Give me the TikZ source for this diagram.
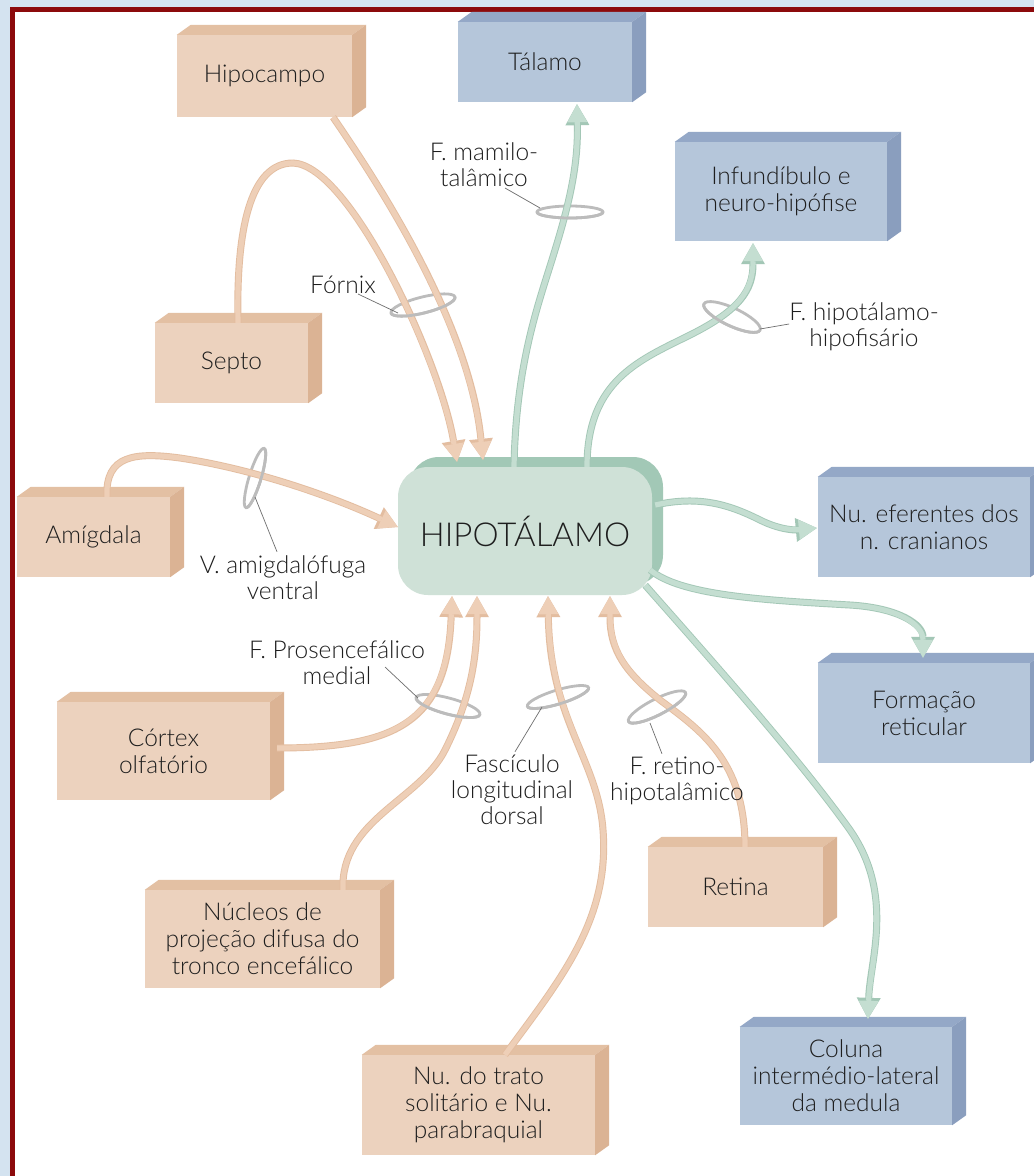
\documentclass[tikz,border=0pt]{standalone}
\usepackage{fontspec}
\IfFontExistsTF{Lato Light}{\setmainfont{Lato Light}}{\setmainfont{Lato}}
\usetikzlibrary{arrows.meta,calc}
\definecolor{outerbg}{RGB}{212,227,240}
\definecolor{framered}{RGB}{140,10,12}
\definecolor{pfront}{RGB}{236,210,190}
\definecolor{ptop}{RGB}{227,192,163}
\definecolor{pside}{RGB}{219,179,148}
\definecolor{bfront}{RGB}{181,198,218}
\definecolor{btop}{RGB}{148,168,199}
\definecolor{bside}{RGB}{138,158,190}
\definecolor{hfront}{RGB}{207,225,215}
\definecolor{hback}{RGB}{162,200,182}
\definecolor{pfill}{RGB}{238,207,183}
\definecolor{pedge}{RGB}{227,189,160}
\definecolor{gfill}{RGB}{196,222,209}
\definecolor{gedge}{RGB}{163,199,182}
\definecolor{ringc}{RGB}{188,188,188}
\definecolor{leadc}{RGB}{110,110,110}
\definecolor{txt}{RGB}{30,30,30}
\newcommand\boxfs{\fontsize{24.5}{27}\selectfont}
\newcommand\lblfs{\fontsize{24.5}{26}\selectfont}
\newcommand\mkextrude[3]{%
  \fill[#2] (#1.north west) -- ++(14,-10) -- ($(#1.north east)+(14,-10)$) -- (#1.north east) -- cycle;
  \fill[#3] (#1.north east) -- ++(14,-10) -- ($(#1.south east)+(14,-10)$) -- (#1.south east) -- cycle;}
\newcommand\ringback[4]{%
  \begin{scope}[shift={(#1)},rotate=#4]
    \draw[ringst] (0,0) ellipse [x radius=#2, y radius=#3];
  \end{scope}}
\newcommand\ringfront[5]{%
  \begin{scope}[shift={(#1)},rotate=#4]
    \draw[ringst] (#5:#2 and #3) arc [start angle=#5, end angle=#5+180, x radius=#2, y radius=#3];
  \end{scope}}
\tikzset{
  ringst/.style={draw=ringc, line width=2.8pt},
  leadst/.style={draw=leadc, line width=0.7pt},
  pbox/.style={fill=pfront, inner sep=0pt, align=center, font=\boxfs, text=txt},
  bbox/.style={fill=bfront, inner sep=0pt, align=center, font=\boxfs, text=txt},
  lbl/.style={inner sep=0pt, align=center, font=\lblfs, text=txt},
  parrow/.style={draw=pfill, line width=5.2pt,
    -{Triangle[width=20pt,length=18pt,line width=0pt]},
    preaction={draw=pedge, line width=7pt, -{Triangle[width=24pt,length=21pt,line width=0pt]}}},
  garrow/.style={draw=gfill, line width=5.2pt,
    -{Triangle[width=20pt,length=18pt,line width=0pt]},
    preaction={draw=gedge, line width=7pt, -{Triangle[width=24pt,length=21pt,line width=0pt]}}},
}
\begin{document}
\begin{tikzpicture}[x=1pt,y=-1pt]
\useasboundingbox (0,0) rectangle (1034,1176);
\fill[outerbg] (0,0) rectangle (1034,1176);
\fill[white] (12,9) rectangle (1045,1195);
\draw[framered, line width=5pt] (12.5,9.5) rectangle (1045,1195);

% hypothalamus
\fill[hback, rounded corners=30pt] (409,457) rectangle (663,585);
\node[fill=hfront, rounded corners=30pt, minimum width=254pt, minimum height=128pt, inner sep=0pt,
      font=\fontsize{33}{36}\selectfont, text=txt] (hyp) at (525,531) {HIPOTÁLAMO};

% peach boxes
\node[pbox, minimum width=175pt, minimum height=82pt] (hipo) at (264.5,76) {Hipocampo};
\node[pbox, minimum width=153pt, minimum height=80pt] (septo) at (231.5,363) {Septo};
\node[pbox, minimum width=153pt, minimum height=80pt] (amig) at (93.5,537) {Amígdala};
\node[pbox, minimum width=213pt, minimum height=98pt] (cortex) at (163.5,751) {Córtex\\olfatório};
\node[pbox, minimum width=235pt, minimum height=98pt] (nucleos) at (262.5,939) {Núcleos de\\projeção difusa do\\tronco encefálico};
\node[pbox, minimum width=233pt, minimum height=100pt] (trato) at (478.5,1105) {Nu. do trato\\solitário e Nu.\\parabraquial};
\node[pbox, minimum width=175pt, minimum height=80pt] (retina) at (735.5,887) {Retina};
\foreach \n in {hipo,septo,amig,cortex,nucleos,trato,retina}{\mkextrude{\n}{ptop}{pside}}

% blue boxes
\node[bbox, minimum width=174pt, minimum height=80pt] (talamo) at (545,62) {Tálamo};
\node[bbox, minimum width=212pt, minimum height=99pt] (infund) at (781,191.5) {Infundíbulo e\\neuro-hipófise};
\node[bbox, minimum width=212pt, minimum height=100pt] (eferentes) at (924,527) {Nu. eferentes dos\\n. cranianos};
\node[bbox, minimum width=212pt, minimum height=100pt] (formacao) at (924,713) {Formação\\reticular};
\node[bbox, minimum width=212pt, minimum height=98pt] (coluna) at (846,1076) {Coluna\\intermédio-lateral\\da medula};
\foreach \n in {talamo,infund,eferentes,formacao,coluna}{\mkextrude{\n}{btop}{bside}}

% rings (back halves)
\coordinate (rfornix) at (423,305);
\coordinate (rmamilo) at (570,212);
\coordinate (rhipof) at (732,317);
\coordinate (ramig) at (255,478);
\coordinate (rpros) at (448,706);
\coordinate (rfasc) at (558,697);
\coordinate (rretino) at (657,707);
\ringback{rfornix}{33}{8}{14}
\ringback{rmamilo}{33}{6}{0}
\ringback{rhipof}{31}{9}{-25}
\ringback{ramig}{6}{31}{-17}
\ringback{rpros}{33}{8}{-15}
\ringback{rfasc}{32}{7}{17}
\ringback{rretino}{32}{8}{27}

% afferent (peach) arrows
\draw[parrow] ($(hipo.south)+(68.5,0)$) .. controls (390,200) and (470,330) .. ($(hyp.north)+(-42,-7)$);
\draw[parrow] ($(septo.north)+(6.5,0)$) .. controls (236,230) and (250,163) .. (293,163)
   .. controls (350,165) and (440,360) .. ($(hyp.north)+(-68,-5)$);
\draw[parrow] ($(amig.north)+(13.5,0)$) .. controls (105,455) and (135,452) .. (180,458)
   .. controls (260,470) and (340,500) .. ($(hyp.west)+(0,-4)$);
\draw[parrow] ($(cortex.east)+(7,-3)$) .. controls (400,748) and (447,720) .. ($(hyp.south)+(-73,1)$);
\draw[parrow] ($(nucleos.north)+(80.5,0)$) .. controls (340,820) and (420,800) .. (445,750)
   .. controls (470,700) and (477,660) .. ($(hyp.south)+(-48,1)$);
\draw[parrow] ($(trato.north)+(26.5,0)$) .. controls (560,980) and (610,920) .. (603,830)
   .. controls (598,760) and (550,720) .. ($(hyp.south)+(23,1)$);
\draw[parrow] ($(retina.north)+(9.5,0)$) .. controls (745,760) and (700,730) .. (660,700)
   .. controls (625,672) and (610,650) .. ($(hyp.south)+(85,1)$);

% efferent (green) arrows
\draw[garrow] ($(hyp.north)+(-11,0)$) .. controls (516,360) and (540,300) .. (555,250)
   .. controls (572,195) and (578,160) .. ($(talamo.south)+(32,2)$);
\draw[garrow] ($(hyp.north)+(62,0)$) .. controls (587,380) and (640,360) .. (690,335)
   .. controls (740,310) and (753,290) .. ($(infund.south)+(-28,2)$);
\draw[garrow] ($(hyp.east)+(3,-26)$) .. controls (700,495) and (730,505) .. (760,520)
   .. controls (780,530) and (795,530) .. ($(eferentes.west)+(-1,1)$);
\draw[garrow] ($(hyp.east)+(-2,39)$) .. controls (680,595) and (760,600) .. (850,605)
   .. controls (900,608) and (923,625) .. ($(formacao.north)+(-1,-5)$);
\draw[garrow] ($(hyp.south east)+(-7,-10)$) .. controls (720,670) and (800,760) .. (850,830)
   .. controls (895,895) and (870,960) .. ($(coluna.north)+(22,-8)$);

% rings (front halves)
\ringfront{rfornix}{33}{8}{14}{0}
\ringfront{rmamilo}{33}{6}{0}{0}
\ringfront{rhipof}{31}{9}{-25}{0}
\ringfront{ramig}{6}{31}{-17}{-90}
\ringfront{rpros}{33}{8}{-15}{0}
\ringfront{rfasc}{32}{7}{17}{0}
\ringfront{rretino}{32}{8}{27}{0}

% labels
\node[lbl] (lfornix) at (343,285) {Fórnix};
\node[lbl] (lmamilo) at (484,165) {F. mamilo-\\talâmico};
\node[lbl] (lhipof) at (864,327) {F. hipotálamo-\\hipofisário};
\node[lbl] (lamig) at (283,578) {V. amigdalófuga\\ventral};
\node[lbl] (lpros) at (337,663) {F. Prosencefálico\\medial};
\node[lbl] (lfasc) at (512,790) {Fascículo\\longitudinal\\dorsal};
\node[lbl] (lretino) at (677,781) {F. retino-\\hipotalâmico};

% leader lines
\draw[leadst] (358,294) -- ($(rfornix)+(-25,8)$);
\draw[leadst] (505,188) -- ($(rmamilo)+(-30,-4)$);
\draw[leadst] ($(lhipof.west)+(0,-3)$) -- ($(rhipof)+(28,12)$);
\draw[leadst] ($(lamig.north)+(-6,-4)$) -- ($(ramig)+(0,19)$);
\draw[leadst] (385,667) -- ($(rpros)+(-30,-8)$);
\draw[leadst] ($(lfasc.north)+(3,-3)$) -- ($(rfasc)+(-16,10)$);
\draw[leadst] ($(lretino.north)+(-15,-3)$) -- ($(rretino)+(-7,16)$);
\end{tikzpicture}
\end{document}
